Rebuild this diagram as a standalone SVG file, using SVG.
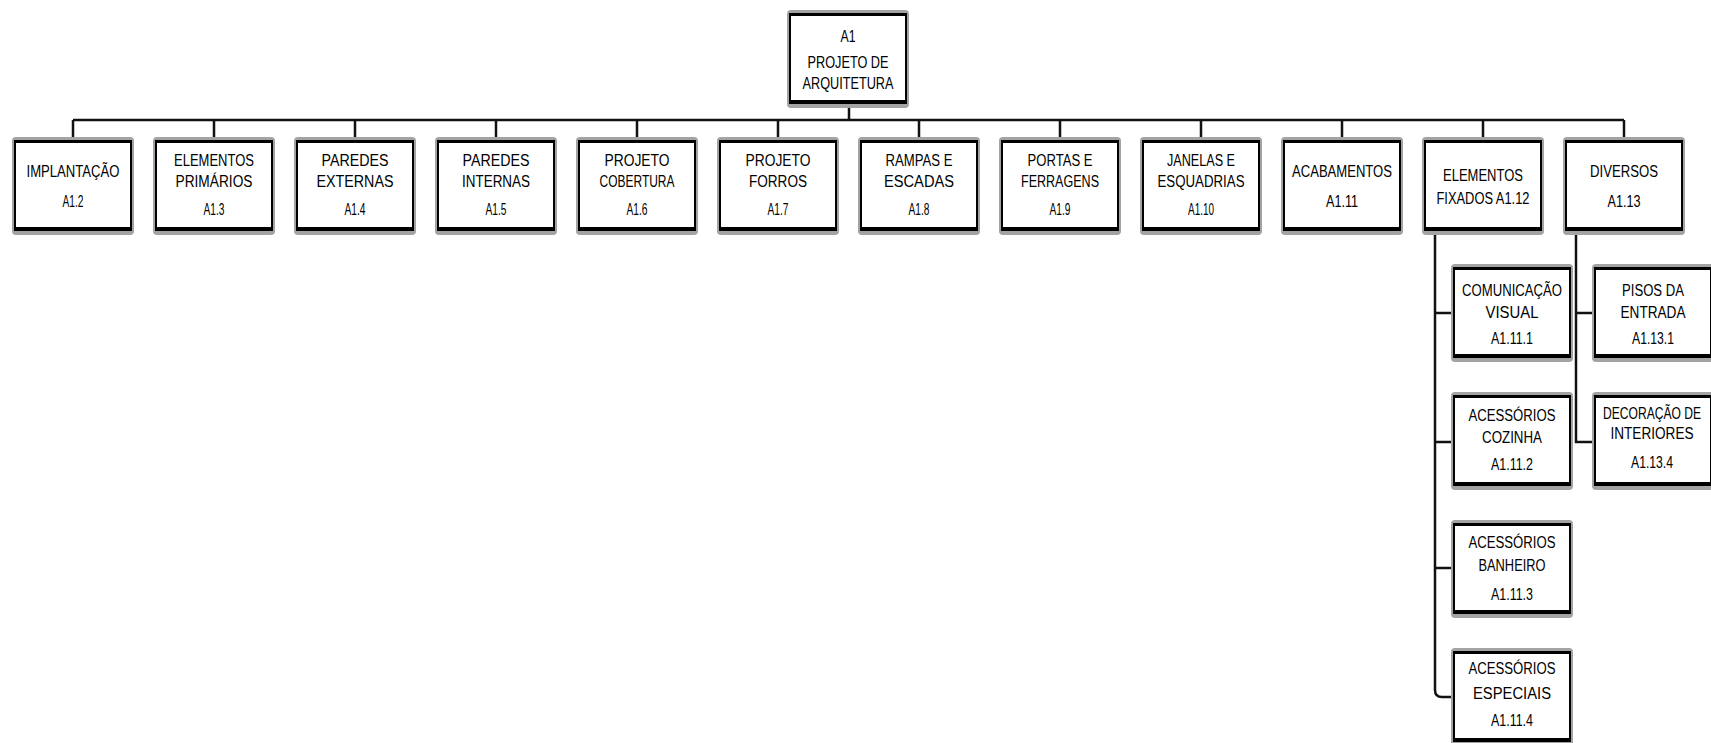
<svg xmlns="http://www.w3.org/2000/svg" xmlns:xlink="http://www.w3.org/1999/xlink" width="1711" height="743" viewBox="0 0 1711 743">
<style>
.t{font-family:"Liberation Sans",Arial,sans-serif;font-size:16px;fill:#000;text-anchor:middle}
.c{fill:none;stroke:#111;stroke-width:2.5}
</style>
<defs>
<g id="box">
<rect x="0" y="0" width="122" height="98" rx="4" fill="#a3a3a3"/>
<rect x="3" y="4" width="116" height="89" fill="#fff" stroke="#000" stroke-width="2"/>
<line x1="3" y1="4.5" x2="119" y2="4.5" stroke="#000" stroke-width="3"/>
<line x1="3" y1="92" x2="119" y2="92" stroke="#000" stroke-width="4"/>
</g>
</defs>
<rect width="1711" height="743" fill="#fff"/>
<g id="connectors">
<path class="c" d="M849 108V120"/>
<path class="c" d="M73 120H1624"/>
<path class="c" d="M73 120V137M214 120V137M355 120V137M496 120V137M637 120V137M778 120V137M919 120V137M1060 120V137M1201 120V137M1342 120V137M1483 120V137M1624 120V137"/>
<path class="c" d="M1435 235V690Q1435 697 1442 697H1451M1435 313H1451M1435 442H1451M1435 568H1451"/>
<path class="c" d="M1576 235V442H1592M1576 313H1592"/>
</g>
<g id="n-a1"><use xlink:href="#box" x="787" y="10"/>
<text class="t" x="848" y="42" textLength="15" lengthAdjust="spacingAndGlyphs">A1</text>
<text class="t" x="848" y="68" textLength="81" lengthAdjust="spacingAndGlyphs">PROJETO DE</text>
<text class="t" x="848" y="89" textLength="91" lengthAdjust="spacingAndGlyphs">ARQUITETURA</text></g>
<g id="n-a1-2"><use xlink:href="#box" x="12" y="137"/>
<text class="t" x="73" y="177" textLength="93" lengthAdjust="spacingAndGlyphs">IMPLANTAÇÃO</text>
<text class="t" x="73" y="207" textLength="21" lengthAdjust="spacingAndGlyphs">A1.2</text></g>
<g id="n-a1-3"><use xlink:href="#box" x="153" y="137"/>
<text class="t" x="214" y="166" textLength="80" lengthAdjust="spacingAndGlyphs">ELEMENTOS</text>
<text class="t" x="214" y="187" textLength="77" lengthAdjust="spacingAndGlyphs">PRIMÁRIOS</text>
<text class="t" x="214" y="215" textLength="21" lengthAdjust="spacingAndGlyphs">A1.3</text></g>
<g id="n-a1-4"><use xlink:href="#box" x="294" y="137"/>
<text class="t" x="355" y="166" textLength="67" lengthAdjust="spacingAndGlyphs">PAREDES</text>
<text class="t" x="355" y="187" textLength="77" lengthAdjust="spacingAndGlyphs">EXTERNAS</text>
<text class="t" x="355" y="215" textLength="21" lengthAdjust="spacingAndGlyphs">A1.4</text></g>
<g id="n-a1-5"><use xlink:href="#box" x="435" y="137"/>
<text class="t" x="496" y="166" textLength="67" lengthAdjust="spacingAndGlyphs">PAREDES</text>
<text class="t" x="496" y="187" textLength="68" lengthAdjust="spacingAndGlyphs">INTERNAS</text>
<text class="t" x="496" y="215" textLength="21" lengthAdjust="spacingAndGlyphs">A1.5</text></g>
<g id="n-a1-6"><use xlink:href="#box" x="576" y="137"/>
<text class="t" x="637" y="166" textLength="65" lengthAdjust="spacingAndGlyphs">PROJETO</text>
<text class="t" x="637" y="187" textLength="75" lengthAdjust="spacingAndGlyphs">COBERTURA</text>
<text class="t" x="637" y="215" textLength="21" lengthAdjust="spacingAndGlyphs">A1.6</text></g>
<g id="n-a1-7"><use xlink:href="#box" x="717" y="137"/>
<text class="t" x="778" y="166" textLength="65" lengthAdjust="spacingAndGlyphs">PROJETO</text>
<text class="t" x="778" y="187" textLength="58" lengthAdjust="spacingAndGlyphs">FORROS</text>
<text class="t" x="778" y="215" textLength="21" lengthAdjust="spacingAndGlyphs">A1.7</text></g>
<g id="n-a1-8"><use xlink:href="#box" x="858" y="137"/>
<text class="t" x="919" y="166" textLength="67" lengthAdjust="spacingAndGlyphs">RAMPAS E</text>
<text class="t" x="919" y="187" textLength="70" lengthAdjust="spacingAndGlyphs">ESCADAS</text>
<text class="t" x="919" y="215" textLength="21" lengthAdjust="spacingAndGlyphs">A1.8</text></g>
<g id="n-a1-9"><use xlink:href="#box" x="999" y="137"/>
<text class="t" x="1060" y="166" textLength="65" lengthAdjust="spacingAndGlyphs">PORTAS E</text>
<text class="t" x="1060" y="187" textLength="78" lengthAdjust="spacingAndGlyphs">FERRAGENS</text>
<text class="t" x="1060" y="215" textLength="21" lengthAdjust="spacingAndGlyphs">A1.9</text></g>
<g id="n-a1-10"><use xlink:href="#box" x="1140" y="137"/>
<text class="t" x="1201" y="166" textLength="68" lengthAdjust="spacingAndGlyphs">JANELAS E</text>
<text class="t" x="1201" y="187" textLength="87" lengthAdjust="spacingAndGlyphs">ESQUADRIAS</text>
<text class="t" x="1201" y="215" textLength="26" lengthAdjust="spacingAndGlyphs">A1.10</text></g>
<g id="n-a1-11"><use xlink:href="#box" x="1281" y="137"/>
<text class="t" x="1342" y="177" textLength="100" lengthAdjust="spacingAndGlyphs">ACABAMENTOS</text>
<text class="t" x="1342" y="207" textLength="32" lengthAdjust="spacingAndGlyphs">A1.11</text></g>
<g id="n-a1-12"><use xlink:href="#box" x="1422" y="137"/>
<text class="t" x="1483" y="181" textLength="80" lengthAdjust="spacingAndGlyphs">ELEMENTOS</text>
<text class="t" x="1483" y="204" textLength="93" lengthAdjust="spacingAndGlyphs">FIXADOS A1.12</text></g>
<g id="n-a1-13"><use xlink:href="#box" x="1563" y="137"/>
<text class="t" x="1624" y="177" textLength="68" lengthAdjust="spacingAndGlyphs">DIVERSOS</text>
<text class="t" x="1624" y="207" textLength="33" lengthAdjust="spacingAndGlyphs">A1.13</text></g>
<g id="n-a1-11-1"><use xlink:href="#box" x="1451" y="264"/>
<text class="t" x="1512" y="296" textLength="100" lengthAdjust="spacingAndGlyphs">COMUNICAÇÃO</text>
<text class="t" x="1512" y="318" textLength="53" lengthAdjust="spacingAndGlyphs">VISUAL</text>
<text class="t" x="1512" y="344" textLength="42" lengthAdjust="spacingAndGlyphs">A1.11.1</text></g>
<g id="n-a1-11-2"><use xlink:href="#box" x="1451" y="392"/>
<text class="t" x="1512" y="421" textLength="87" lengthAdjust="spacingAndGlyphs">ACESSÓRIOS</text>
<text class="t" x="1512" y="443" textLength="60" lengthAdjust="spacingAndGlyphs">COZINHA</text>
<text class="t" x="1512" y="470" textLength="42" lengthAdjust="spacingAndGlyphs">A1.11.2</text></g>
<g id="n-a1-11-3"><use xlink:href="#box" x="1451" y="520"/>
<text class="t" x="1512" y="548" textLength="87" lengthAdjust="spacingAndGlyphs">ACESSÓRIOS</text>
<text class="t" x="1512" y="571" textLength="67" lengthAdjust="spacingAndGlyphs">BANHEIRO</text>
<text class="t" x="1512" y="600" textLength="42" lengthAdjust="spacingAndGlyphs">A1.11.3</text></g>
<g id="n-a1-11-4"><use xlink:href="#box" x="1451" y="648"/>
<text class="t" x="1512" y="674" textLength="87" lengthAdjust="spacingAndGlyphs">ACESSÓRIOS</text>
<text class="t" x="1512" y="699" textLength="78" lengthAdjust="spacingAndGlyphs">ESPECIAIS</text>
<text class="t" x="1512" y="726" textLength="42" lengthAdjust="spacingAndGlyphs">A1.11.4</text></g>
<g id="n-a1-13-1"><use xlink:href="#box" x="1592" y="264"/>
<text class="t" x="1653" y="296" textLength="62" lengthAdjust="spacingAndGlyphs">PISOS DA</text>
<text class="t" x="1653" y="318" textLength="65" lengthAdjust="spacingAndGlyphs">ENTRADA</text>
<text class="t" x="1653" y="344" textLength="42" lengthAdjust="spacingAndGlyphs">A1.13.1</text></g>
<g id="n-a1-13-4"><use xlink:href="#box" x="1592" y="392"/>
<text class="t" x="1652" y="419" textLength="98" lengthAdjust="spacingAndGlyphs">DECORAÇÃO DE</text>
<text class="t" x="1652" y="439" textLength="83" lengthAdjust="spacingAndGlyphs">INTERIORES</text>
<text class="t" x="1652" y="468" textLength="42" lengthAdjust="spacingAndGlyphs">A1.13.4</text></g>
</svg>
